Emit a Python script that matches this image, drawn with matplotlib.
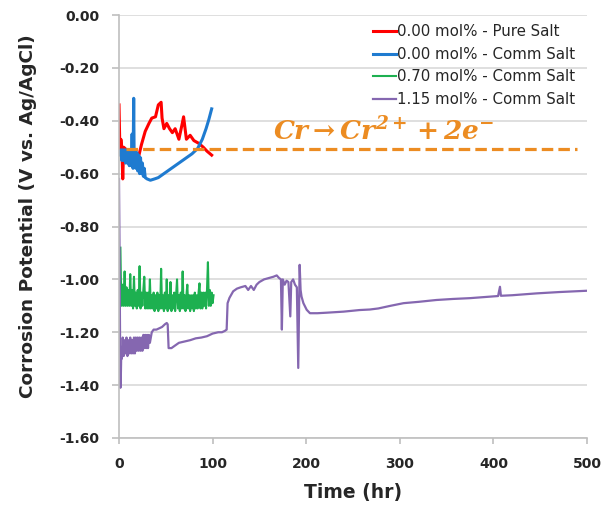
import matplotlib
matplotlib.use("Agg")
import matplotlib.pyplot as plt

# series labels
labels = ["0.00 mol% - Pure Salt", "0.00 mol% - Comm Salt",
          "0.70 mol% - Comm Salt", "1.15 mol% - Comm Salt"]

# 0.00 mol% pure salt
red_t = [0, 1, 2, 3, 4, 5, 8, 12, 16, 21, 24, 28, 32, 35, 39, 42, 45, 46, 48, 51,
         54, 57, 60, 64, 67, 69, 72, 76, 80, 85, 90, 94, 99]
red_v = [-0.34, -0.52, -0.47, -0.50, -0.62, -0.50, -0.51, -0.52, -0.51, -0.535,
         -0.49, -0.44, -0.41, -0.39, -0.385, -0.34, -0.33, -0.39, -0.43, -0.41,
         -0.43, -0.445, -0.43, -0.47, -0.42, -0.385, -0.47, -0.455, -0.475, -0.485,
         -0.50, -0.515, -0.53]

# 0.00 mol% comm salt
blue_t = [0, 1, 2, 3, 4, 5, 6, 7, 8, 9, 10, 11, 12, 13, 14, 14.5, 15, 15.7, 16.2,
          17, 18, 19, 20, 21, 22, 23, 24, 25, 26, 27, 28, 30, 33.5, 38, 42, 46, 52,
          58, 64, 70, 78, 84, 89, 93, 96, 99]
blue_v = [-0.52, -0.53, -0.51, -0.55, -0.51, -0.55, -0.51, -0.56, -0.51, -0.56,
          -0.51, -0.57, -0.51, -0.57, -0.45, -0.52, -0.58, -0.315, -0.55,
          -0.51, -0.58, -0.52, -0.59, -0.53, -0.60, -0.54, -0.60, -0.56, -0.61,
          -0.58, -0.615, -0.62, -0.625, -0.62, -0.615, -0.605, -0.59, -0.575,
          -0.56, -0.545, -0.525, -0.505, -0.47, -0.43, -0.395, -0.355]

# 0.70 mol% comm salt (hourly readings)
green_t = [1.5] + list(range(2, 102))
green_v = [-0.88,
           -1.00, -1.10, -1.02, -1.10, -0.97, -1.10, -1.03, -1.10, -1.04, -1.10,
           -0.98, -1.10, -1.04, -1.11, -0.99, -1.10, -1.05, -1.11, -1.04, -1.10,
           -0.95, -1.11, -1.05, -1.10, -1.04, -0.99, -1.11, -1.05, -1.11, -1.05,
           -1.11, -1.00, -1.11, -1.06, -1.11, -1.05, -1.12, -1.06, -1.11, -1.05,
           -1.12, -1.06, -1.11, -0.96, -1.11, -1.06, -1.12, -1.05, -1.11, -1.00,
           -1.12, -1.06, -1.11, -1.01, -1.12, -1.06, -1.11, -1.05, -1.12, -1.06,
           -1.00, -1.11, -1.06, -1.12, -1.05, -1.11, -0.97, -1.11, -1.06, -1.12,
           -1.06, -1.02, -1.11, -1.06, -1.12, -1.06, -1.11, -1.06, -1.12, -1.05,
           -1.11, -1.06, -1.11, -1.05, -1.015, -1.11, -1.05, -1.11, -1.05, -1.10,
           -1.05, -1.11, -1.04, -0.935, -1.10, -1.04, -1.10, -1.05, -1.09, -1.06]

# 1.15 mol% comm salt
purple_t = [0, 0.5, 1, 1.5, 2, 2.5, 3, 4, 5, 6, 7, 8, 9, 10, 11, 12, 13, 14, 15, 16,
            17, 18, 19, 20, 21, 22, 23, 24, 25, 26, 27, 28, 29, 30, 31, 32, 33, 35,
            37, 40, 43, 46, 49, 51, 52, 53, 56, 60, 64, 70, 76, 82, 88, 94, 100,
            106, 110, 113, 115, 116, 118, 122, 126, 130, 135, 138, 141, 144, 147,
            150, 155, 160, 165, 168.5, 171, 173, 174, 175, 177, 179, 181, 183, 184,
            186, 188, 190, 191.5, 193, 194, 195, 197, 200.5, 204, 212, 222, 240,
            257, 268, 277, 290, 304, 320, 339, 357, 375, 390, 405, 407, 408, 420,
            446, 470, 500]
purple_v = [-0.62, -0.85, -1.15, -1.41, -1.36, -1.26, -1.30, -1.22, -1.29, -1.23,
            -1.28, -1.22, -1.29, -1.23, -1.28, -1.22, -1.28, -1.23, -1.28, -1.22,
            -1.28, -1.22, -1.27, -1.22, -1.27, -1.22, -1.27, -1.22, -1.27, -1.21,
            -1.26, -1.21, -1.26, -1.21, -1.26, -1.21, -1.24, -1.20,
            -1.19, -1.19, -1.185, -1.18, -1.17, -1.165, -1.17, -1.26, -1.26, -1.25,
            -1.24, -1.235, -1.23, -1.223, -1.22, -1.215, -1.205,
            -1.20, -1.20, -1.195, -1.19, -1.09, -1.07, -1.045, -1.035, -1.03,
            -1.025, -1.04, -1.025, -1.04, -1.02,
            -1.01, -1.0, -0.995, -0.99, -0.985, -0.995, -1.00, -1.19, -1.00, -1.02,
            -1.005, -1.01, -1.14, -1.01,
            -1.00, -1.02, -1.03, -1.335, -0.945, -1.04, -1.065, -1.09, -1.115,
            -1.128, -1.128, -1.126, -1.122,
            -1.116, -1.114, -1.11, -1.10, -1.09, -1.085, -1.078, -1.074, -1.071,
            -1.067, -1.063, -1.028, -1.062, -1.06,
            -1.053, -1.048, -1.043]

# Cr oxidation potential
cr_level = -0.505
cr_span = [8, 489]

colors = ["#FF0000", "#1F7BD0", "#1DB050", "#8567B0"]
orange = "#EC8C22"
grid_c = "#D9D9D9"
text_c = "#262626"

fig = plt.figure(figsize=(6.15, 5.09), dpi=100)
ax = fig.add_axes([0.1935, 0.1395, 0.7610, 0.8310])

ax.plot(red_t, red_v, color=colors[0], lw=2.2, label=labels[0])
ax.plot(blue_t, blue_v, color=colors[1], lw=2.2, label=labels[1])
ax.plot(green_t, green_v, color=colors[2], lw=1.5, label=labels[2])
ax.plot(purple_t, purple_v, color=colors[3], lw=1.6, label=labels[3])
ax.plot(cr_span, [cr_level, cr_level], color=orange, lw=2.3, dashes=(3.6, 1.6))

ax.text(164, -0.473, r"$\mathbfit{Cr \rightarrow Cr^{2+} + 2e^{-}}$",
        color=orange, fontsize=19, math_fontfamily="dejavuserif", va="baseline")

ax.set_xlim(0, 500)
ax.set_ylim(-1.6, 0.0)
ax.set_xticks([0, 100, 200, 300, 400, 500])
ax.set_yticks([-1.6, -1.4, -1.2, -1.0, -0.8, -0.6, -0.4, -0.2, 0.0])
ax.set_yticklabels(["%.2f" % v for v in ax.get_yticks()])
ax.yaxis.grid(True, color=grid_c, lw=1.2)
ax.set_axisbelow(True)

for s in ["top", "right"]:
    ax.spines[s].set_visible(False)
for s in ["left", "bottom"]:
    ax.spines[s].set_color("#BFBFBF")
    ax.spines[s].set_linewidth(1.2)
ax.tick_params(axis="both", colors="#BFBFBF", width=1.2,
               labelcolor=text_c, labelsize=10)
ax.tick_params(axis="x", length=4, pad=10)
ax.tick_params(axis="y", length=5, pad=9)
for lab in ax.get_xticklabels() + ax.get_yticklabels():
    lab.set_fontweight("bold")

ax.set_xlabel("Time (hr)", fontsize=13.5, fontweight="bold", color=text_c, labelpad=8)
ax.set_ylabel("Corrosion Potential (V vs. Ag/AgCl)", fontsize=13.3,
              fontweight="bold", color=text_c)
ax.yaxis.set_label_coords(-0.176, 0.525)

ax.legend(loc="upper right", bbox_to_anchor=(0.975, 0.978), frameon=False,
          fontsize=10.8, handlelength=1.5, handletextpad=0.1, labelspacing=0.5,
          labelcolor=text_c, borderaxespad=0, borderpad=0)

fig.savefig("out.png", dpi=100)
